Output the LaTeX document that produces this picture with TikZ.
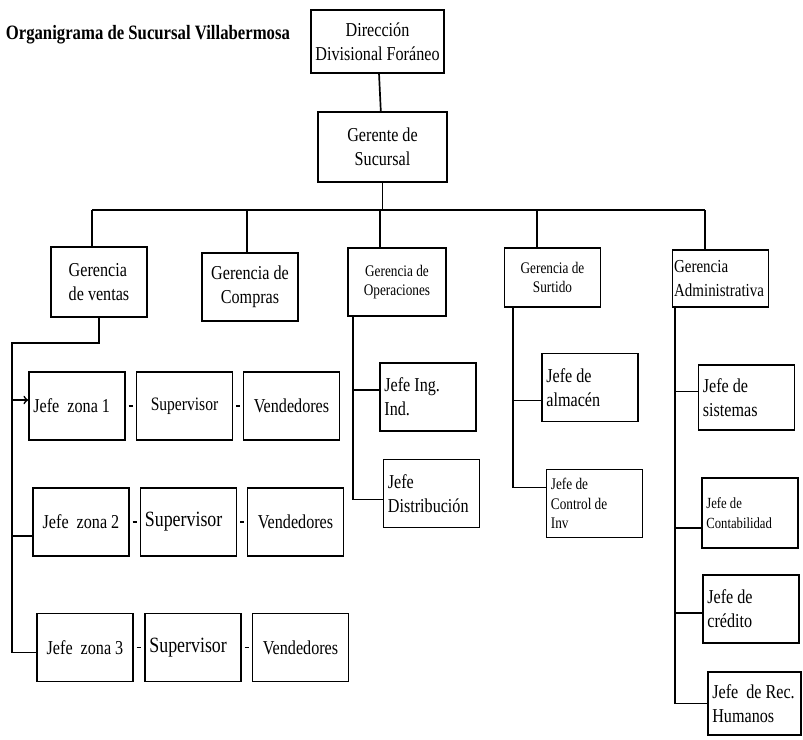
\documentclass[tikz,border=0pt]{standalone}
\usepackage{fontspec}
\setmainfont{Liberation Serif}[FakeStretch=0.82]
\tikzset{
  caja/.style={draw, minimum width=2.4cm, minimum height=1.7cm, inner xsep=3pt, inner ysep=2pt, align=center, font=\fontsize{14}{17}\selectfont},
  cajai/.style={caja, text width=62pt, align=flush left},
  chica/.style={font=\fontsize{11.5}{14}\selectfont},
  grande/.style={font=\fontsize{15.5}{18}\selectfont},
}
\begin{document}
\begin{tikzpicture}[x=0.025cm, y=-0.025cm, line width=1.2pt]
  \useasboundingbox (0,0) rectangle (803,739);
  % Titulo
  \node[anchor=west, inner sep=0pt, font=\bfseries\fontsize{14.5}{17}\selectfont] (titulo) at (5,35) {Organigrama de Sucursal Villabermosa};
  % Direccion y gerente
  \node[caja, minimum width=3.275cm, minimum height=1.575cm] (dir) at (377.5,41.5) {Dirección\\Divisional Foráneo};
  \node[caja, minimum width=3.225cm, minimum height=1.75cm] (ger) at (382.5,147) {Gerente de\\Sucursal};
  % Gerencias
  \node[caja, align=left, minimum height=1.75cm] (ventas) at (99,282) {Gerencia\\de ventas};
  \node[caja] (compras) at (250,287) {Gerencia de\\Compras};
  \node[caja, chica, minimum width=2.45cm] (ops) at (397,282) {Gerencia de\\Operaciones};
  \node[caja, chica, minimum height=1.475cm] (surt) at (552.5,277.5) {Gerencia de\\Surtido};
  \node[cajai, inner xsep=1pt, text width=66pt, minimum height=1.425cm, font=\fontsize{13}{17}\selectfont] (adm) at (720.5,278.5) {Gerencia\\Administrativa};
  % Ventas
  \node[cajai] (jz1) at (77,406) {Jefe~ zona 1};
  \node[caja, font=\fontsize{13.5}{17}\selectfont] (sup1) at (184.5,406) {Supervisor};
  \node[caja] (ven1) at (291.5,406) {Vendedores};
  \node[caja] (jz2) at (81,522) {Jefe~ zona 2};
  \node[cajai, grande] (sup2) at (188.5,522) {Supervisor};
  \node[caja] (ven2) at (295.5,522) {Vendedores};
  \node[caja] (jz3) at (85,647.5) {Jefe~ zona 3};
  \node[cajai, grande] (sup3) at (193,647.5) {Supervisor};
  \node[caja] (ven3) at (300.5,647.5) {Vendedores};
  % Operaciones
  \node[cajai] (jing) at (428,397) {Jefe Ing.\\Ind.};
  \node[cajai] (jdist) at (431.5,493.5) {Jefe\\Distribución};
  % Surtido
  \node[cajai] (alm) at (590,387.5) {Jefe de\\almacén};
  \node[cajai, chica] (ctrl) at (594.5,503.5) {Jefe de\\Control de\\Inv};
  % Administrativa
  \node[cajai, minimum height=1.625cm] (sis) at (746.5,397.5) {Jefe de\\sistemas};
  \node[cajai, font=\fontsize{11}{14}\selectfont, minimum height=1.75cm] (cont) at (750,513) {Jefe de\\Contabilidad};
  \node[cajai] (cred) at (751,609) {Jefe de\\crédito};
  \node[cajai, minimum width=2.325cm, text width=60pt, minimum height=1.575cm] (rrhh) at (754.5,703.5) {Jefe~ de Rec.\\Humanos};
  % Lineas superiores
  \coordinate (b1) at (92,210);
  \coordinate (b2) at (247,210);
  \coordinate (b3) at (380,210);
  \coordinate (b4) at (537,210);
  \coordinate (b5) at (705,210);
  \draw (dir) -- (ger);
  \draw (ger) -- (ger |- b1);
  \draw (b1) -- (b5);
  \foreach \c/\n in {b1/ventas, b2/compras, b3/ops, b4/surt, b5/adm}
    \draw (\c) -- (\c |- \n.north);
  % Arbol de ventas
  \coordinate (vt) at (12,343);
  \draw (ventas.south) |- (vt) -- (vt |- jz3.186) -- (jz3.186);
  \draw[->] (vt |- jz1.173) -- (jz1.173);
  \draw (vt |- jz2.196) -- (jz2.196);
  \foreach \a/\b in {jz1/sup1, sup1/ven1, jz2/sup2, sup2/ven2, jz3/sup3, sup3/ven3}
    \draw[shorten <=2pt, shorten >=2pt] (\a) -- (\b);
  % Arbol de operaciones
  \coordinate (ot) at (353,316);
  \draw (ot) -- (ot |- jdist.187) -- (jdist.187);
  \draw (ot |- jing.172) -- (jing.172);
  % Arbol de surtido
  \coordinate (st) at (513,307);
  \draw (st) -- (st |- ctrl.162) -- (ctrl.162);
  \draw (st |- alm.195) -- (alm.195);
  % Arbol administrativo
  \coordinate (adt) at (675,307);
  \draw (adt) -- (adt |- rrhh.west) -- (rrhh.west);
  \draw (adt |- sis.173) -- (sis.173);
  \draw (adt |- cont.197) -- (cont.197);
  \draw (adt |- cred.185) -- (cred.185);
\end{tikzpicture}
\end{document}
